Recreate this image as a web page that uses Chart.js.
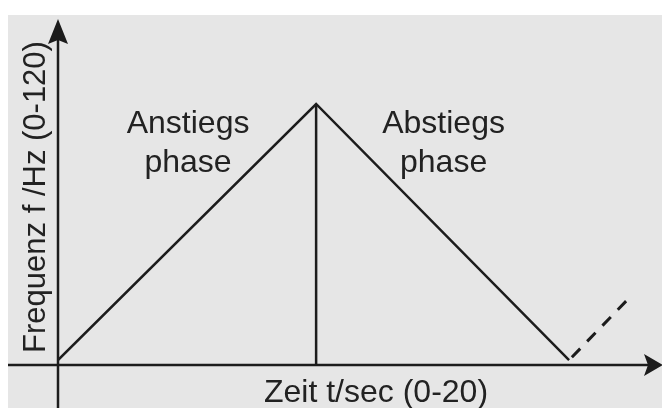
<!DOCTYPE html>
<html>
<head>
<meta charset="utf-8">
<script src="https://cdn.jsdelivr.net/npm/chart.js@4"></script>
<style>
  html, body { margin: 0; padding: 0; background: #fff; }
  #wrap { width: 662px; height: 408px; }
</style>
</head>
<body>
<div id="wrap"><canvas id="freqChart" width="662" height="408"></canvas></div>
<script>
// ==============================
// DATEN
// ==============================
const zeit     = [0, 10, 19.8];    // t/sec
const frequenz = [0, 120, 0];      // f/Hz
const nextZeit     = [19.8, 22.2]; // naechster Anstieg (gestrichelt)
const nextFrequenz = [0, 30];
const peakZeit = 10;
const phaseLabels = [['Anstiegs', 'phase'], ['Abstiegs', 'phase']];
const xTitle = 'Zeit t/sec (0-20)';
const yTitle = 'Frequenz f /Hz (0-120)';

const toPoints = (xs, ys) => xs.map((x, i) => ({ x: x, y: ys[i] }));

const INK = '#1c1c1c';
const FONT = '"Liberation Sans", Arial, sans-serif';
const Y_MIN = -2.3, Y_MAX = 161.7;

// ==============================
// PLUGIN: Hintergrund, Achsen, Texte
// ==============================
const diagramPlugin = {
  id: 'diagram',
  beforeDraw(chart) {
    const { ctx, width, height } = chart;
    ctx.save();
    ctx.fillStyle = '#fff';
    ctx.fillRect(0, 0, width, height);
    ctx.fillStyle = '#e6e6e6';
    ctx.fillRect(8, 15, width - 8, height - 15);
    ctx.restore();
  },
  afterDatasetsDraw(chart) {
    const { ctx, scales: { x, y }, width, height } = chart;
    const x0 = x.getPixelForValue(0);
    const y0 = y.getPixelForValue(Y_MIN);
    ctx.save();
    ctx.strokeStyle = INK;
    ctx.fillStyle = INK;
    ctx.lineWidth = 2.5;

    // x-Achse mit Pfeil
    ctx.beginPath();
    ctx.moveTo(8, y0);
    ctx.lineTo(width - 8, y0);
    ctx.stroke();
    ctx.beginPath();
    ctx.moveTo(width + 1, y0);
    ctx.lineTo(width - 18, y0 - 11);
    ctx.lineTo(width - 14, y0);
    ctx.lineTo(width - 18, y0 + 11);
    ctx.closePath();
    ctx.fill();

    // y-Achse mit Pfeil
    ctx.beginPath();
    ctx.moveTo(x0, height);
    ctx.lineTo(x0, 30);
    ctx.stroke();
    ctx.beginPath();
    ctx.moveTo(x0, 19);
    ctx.lineTo(x0 - 10, 44);
    ctx.lineTo(x0, 40);
    ctx.lineTo(x0 + 10, 44);
    ctx.closePath();
    ctx.fill();

    // Phasen-Beschriftung
    ctx.font = '32px ' + FONT;
    ctx.textAlign = 'center';
    ctx.textBaseline = 'alphabetic';
    ctx.fillStyle = '#222';
    const mids = [(zeit[0] + zeit[1]) / 2, (zeit[1] + zeit[2]) / 2];
    phaseLabels.forEach((lines, i) => {
      const cx = x.getPixelForValue(mids[i]) + 1;
      lines.forEach((t, j) => ctx.fillText(t, cx, 133 + j * 39));
    });

    // Achsentitel
    ctx.fillText(xTitle, 376, 402);
    ctx.font = '31px ' + FONT;
    ctx.save();
    ctx.translate(45, 197);
    ctx.rotate(-Math.PI / 2);
    ctx.fillText(yTitle, 0, 0);
    ctx.restore();

    ctx.restore();
  }
};

// ==============================
// CHART
// ==============================
new Chart(document.getElementById('freqChart'), {
  type: 'line',
  data: {
    datasets: [
      {
        data: toPoints(zeit, frequenz),
        borderColor: INK,
        borderWidth: 2.5,
        pointRadius: 0,
        tension: 0
      },
      {
        data: [{ x: peakZeit, y: frequenz[1] }, { x: peakZeit, y: Y_MIN }],
        borderColor: INK,
        borderWidth: 2.5,
        pointRadius: 0
      },
      {
        data: toPoints(nextZeit, nextFrequenz),
        borderColor: INK,
        borderWidth: 3,
        borderDash: [12, 10],
        borderDashOffset: -4,
        pointRadius: 0
      }
    ]
  },
  options: {
    responsive: false,
    animation: false,
    devicePixelRatio: 1,
    layout: { padding: { left: 58, right: 0, top: 15, bottom: 43 } },
    plugins: { legend: { display: false }, tooltip: { enabled: false } },
    scales: {
      x: { type: 'linear', min: 0, max: 23.4, display: false },
      y: { type: 'linear', min: Y_MIN, max: Y_MAX, display: false }
    }
  },
  plugins: [diagramPlugin]
});
</script>
</body>
</html>
